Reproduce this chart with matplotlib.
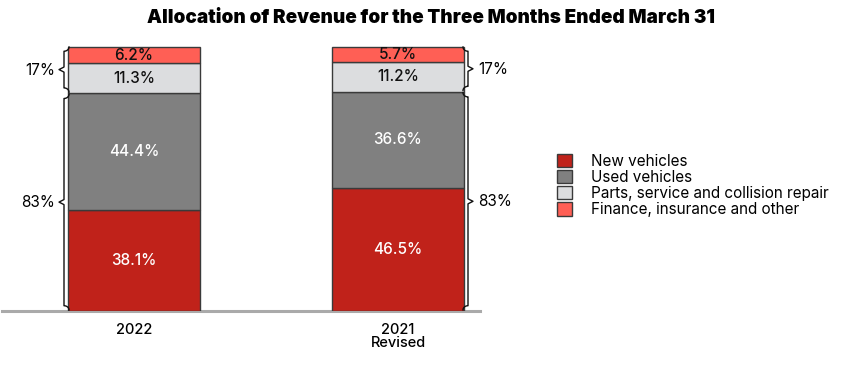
import numpy as np
import matplotlib.pyplot as plt

plt.rcParams['font.family'] = ['Inter', 'DejaVu Sans']

# data
years = ['2022', '2021\nRevised']
segments = ['New vehicles', 'Used vehicles',
            'Parts, service and collision repair', 'Finance, insurance and other']
new_vehicles = [38.1, 46.5]
used_vehicles = [44.4, 36.6]
parts_service = [11.3, 11.2]
finance_other = [6.2, 5.7]
group_labels = ['83%', '17%']

colors = ['#C0221A', '#808080', '#DCDDDF', '#FF5F55']
text_colors = ['white', 'white', '#111111', '#111111']

fig = plt.figure(figsize=(8.62, 3.71), dpi=100)
W, H = 862, 371
# axes in pixels: x 0..480, y from 311 (baseline) up to 40
ax = fig.add_axes([0 / W, (H - 311) / H, 480 / W, (311 - 40) / H])

px = 264.0  # pixels per x unit (bar spacing)
ax.set_xlim(-134 / px, (480 - 134) / px)
ax.set_ylim(0, 100 * (311 - 40) / 264)
ax.axis('off')

x = np.arange(len(years))
series = [new_vehicles, used_vehicles, parts_service, finance_other]
bottom = np.zeros(len(years))
for vals, col, tcol, name in zip(series, colors, text_colors, segments):
    vals = np.array(vals)
    ax.bar(x, vals, width=0.5, bottom=bottom, color=col,
           edgecolor='#3a3a3a', linewidth=1.0, label=name, zorder=2)
    for xi, b, v in zip(x, bottom, vals):
        ax.text(xi, b + v / 2, f'{v:.1f}%', ha='center', va='center',
                color=tcol, fontsize=11, fontweight='medium', zorder=3)
    bottom += vals

# baseline
ax.plot([-132 / px, (480 - 134) / px], [0, 0], color='#AAAAAA', lw=2.2,
        zorder=1, clip_on=False)


def brace(ax, xpos, y0, y1, side):
    # side = -1 tip points left, +1 tip points right
    d = 5 / px
    h = 1.6
    mid = (y0 + y1) / 2
    t = np.linspace(0, np.pi / 2, 12)
    xs = list(xpos - side * d * np.cos(t))
    ys = list(y0 + h * np.sin(t))
    xs += [xpos, xpos, xpos + side * d]
    ys += [y0 + h, mid - h * 0.6, mid]
    xs += [xpos, xpos]
    ys += [mid + h * 0.6, y1 - h]
    xs += list(xpos - side * d * np.cos(t[::-1]))
    ys += list(y1 - h * np.sin(t[::-1]))
    ax.plot(xs, ys, color='#111111', lw=1.0, clip_on=False, zorder=3)


major = [new_vehicles[i] + used_vehicles[i] for i in range(2)]
# bar 0: braces on the left
brace(ax, -0.25 - 4 / px, 0.4, major[0] - 0.4, -1)
brace(ax, -0.25 - 4 / px, major[0] + 0.4, 100, -1)
ax.text(-0.25 - 13 / px, major[0] / 2, group_labels[0], ha='right', va='center', fontsize=11)
ax.text(-0.25 - 13 / px, (major[0] + 100) / 2, group_labels[1], ha='right', va='center', fontsize=11)
# bar 1: braces on the right
brace(ax, 1.25 + 4 / px, 0.4, major[1] - 0.4, 1)
brace(ax, 1.25 + 4 / px, major[1] + 0.4, 100, 1)
ax.text(1.25 + 14 / px, major[1] / 2, group_labels[0], ha='left', va='center', fontsize=11)
ax.text(1.25 + 14 / px, (major[1] + 100) / 2, group_labels[1], ha='left', va='center', fontsize=11)

for xi, lab in zip(x, years):
    ax.text(xi, -4.5, lab, ha='center', va='top', fontsize=10.5,
            fontweight='medium', linespacing=0.95)

fig.text(431 / W, 1 - 18 / H, 'Allocation of Revenue for the Three Months Ended March 31',
         ha='center', va='center', fontsize=13.6, fontweight='black')

fig.legend(loc='upper left', bbox_to_anchor=(557 / W, 1 - 154 / H), frameon=False,
           fontsize=11, handlelength=1.0, handleheight=0.95, labelspacing=0.07,
           handletextpad=1.2, borderpad=0, borderaxespad=0)

fig.savefig('out.png', dpi=100)
